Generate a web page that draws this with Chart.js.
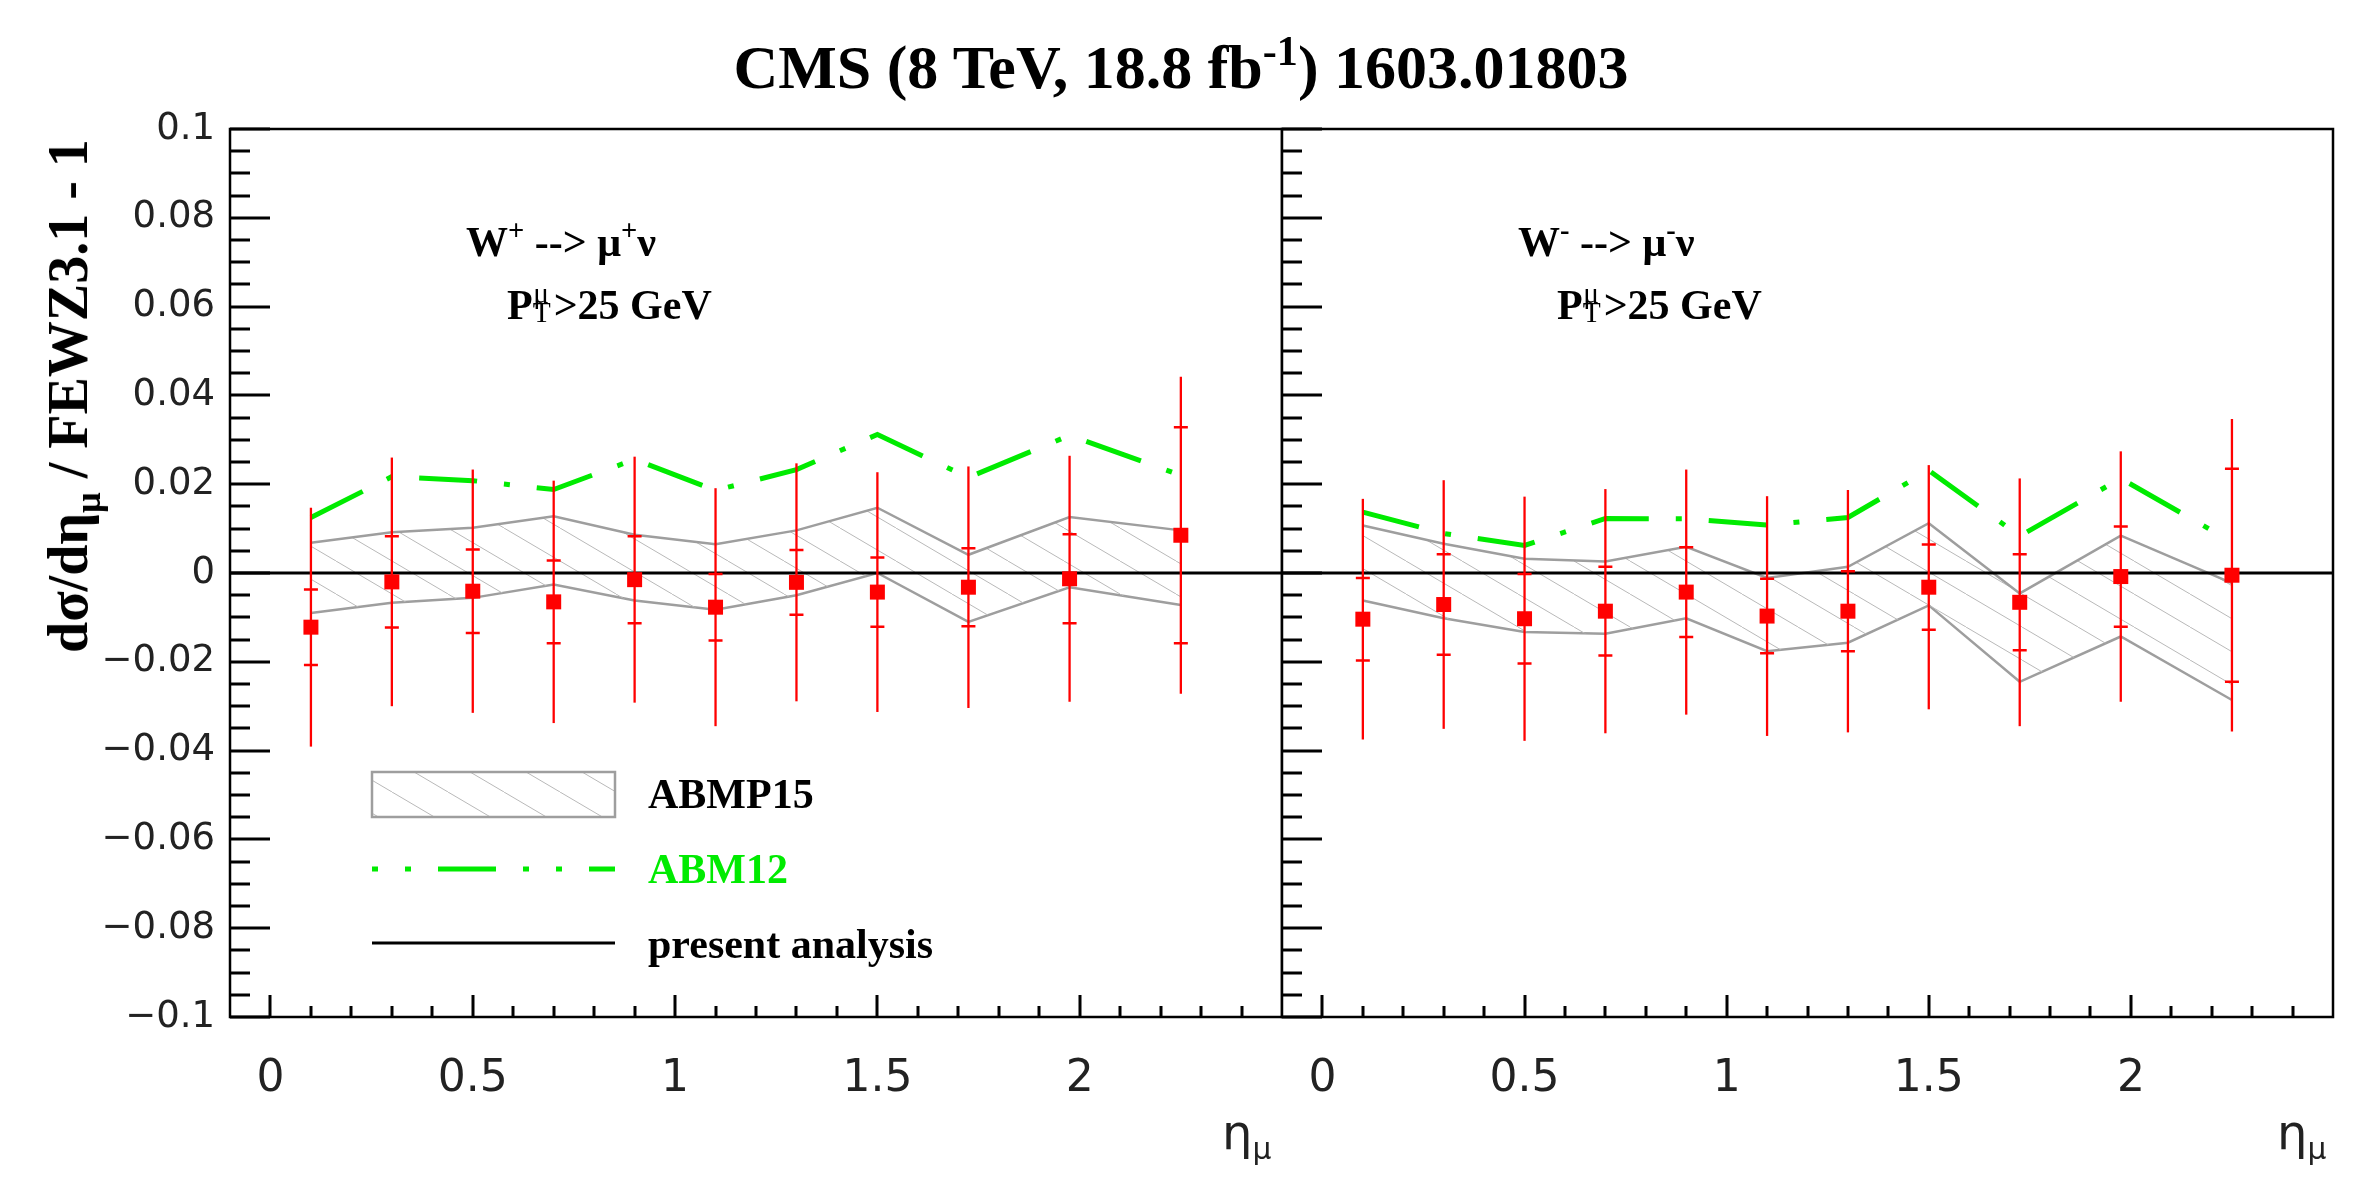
<!DOCTYPE html>
<html>
<head>
<meta charset="utf-8">
<script src="https://cdn.jsdelivr.net/npm/chart.js@4.4.0/dist/chart.umd.min.js"></script>
<style>
body { margin: 0; width: 2363px; height: 1182px; background: #fff; position: relative; overflow: hidden; }
canvas { position: absolute; top: 0; }
#cLeft { left: 0; }
#cRight { left: 1182px; }
.txt { position: absolute; font-family: "Liberation Serif", serif; font-weight: bold; color: #000; white-space: nowrap; line-height: 1; }
.sp { position: relative; font-size: 0.68em; top: -0.55em; }
.ss { position: relative; display: inline-block; width: 0.5em; height: 1em; }
.ss .u { position: absolute; left: 0.02em; top: 0.06em; font-size: 0.7em; font-weight: normal; }
.ss .d { position: absolute; left: 0; top: 0.72em; font-size: 0.7em; font-weight: normal; }
.eta { position: absolute; font-family: "DejaVu Sans", sans-serif; font-size: 48px; line-height: 1; color: #222; }
.eta sub { font-size: 0.62em; vertical-align: -0.35em; }
</style>
</head>
<body>
<canvas id="cLeft" width="1282" height="1182"></canvas>
<canvas id="cRight" width="1181" height="1182"></canvas>

<div class="txt" style="left:1181px; top:36px; font-size:62px; transform:translateX(-50%);">CMS (8 TeV, 18.8 fb<span class="sp">-1</span>) 1603.01803</div>
<div class="txt" style="left:68px; top:396px; font-size:56px; transform:translate(-50%,-50%) rotate(-90deg);">dσ/dη<span style="font-size:0.65em; position:relative; top:0.35em;">μ</span> / FEWZ3.1 - 1</div>

<div class="txt" style="left:466px; top:221px; font-size:42px;">W<span class="sp">+</span> --&gt; μ<span class="sp">+</span>ν</div>
<div class="txt" style="left:507px; top:277px; font-size:42px;">P<span class="ss"><span class="u">μ</span><span class="d">T</span></span>&gt;25 GeV</div>
<div class="txt" style="left:1518px; top:221px; font-size:42px;">W<span class="sp">-</span> --&gt; μ<span class="sp">-</span>ν</div>
<div class="txt" style="left:1557px; top:277px; font-size:42px;">P<span class="ss"><span class="u">μ</span><span class="d">T</span></span>&gt;25 GeV</div>

<div class="eta" style="left:1222px; top:1108px;">η<sub>μ</sub></div>
<div class="eta" style="left:2277px; top:1108px;">η<sub>μ</sub></div>

<script>
// bin centres in eta_mu
var eta = [0.1, 0.3, 0.5, 0.7, 0.9, 1.1, 1.3, 1.5, 1.725, 1.975, 2.25];

// W+ -> mu+ nu
var wp_data  = [-0.0122, -0.0020, -0.0041, -0.0065, -0.0015, -0.0077, -0.0021, -0.0043, -0.0032, -0.0013, 0.0085];
var wp_stat  = [0.0085, 0.0103, 0.0094, 0.0093, 0.0098, 0.0075, 0.0073, 0.0078, 0.0088, 0.0100, 0.0243];
var wp_total = [0.0269, 0.0280, 0.0274, 0.0273, 0.0277, 0.0268, 0.0268, 0.0270, 0.0272, 0.0277, 0.0357];
var wp_abmp15_up = [0.0068, 0.0092, 0.0102, 0.0128, 0.0086, 0.0065, 0.0096, 0.0147, 0.0041, 0.0126, 0.0096];
var wp_abmp15_lo = [-0.0090, -0.0067, -0.0056, -0.0026, -0.0062, -0.0083, -0.0050, 0.0000, -0.0110, -0.0032, -0.0072];
var wp_abm12 = [0.0125, 0.0217, 0.0208, 0.0188, 0.0256, 0.0186, 0.0233, 0.0312, 0.0215, 0.0310, 0.0220];

// W- -> mu- nu
var wm_data  = [-0.0104, -0.0071, -0.0103, -0.0086, -0.0043, -0.0097, -0.0086, -0.0032, -0.0066, -0.0008, -0.0005];
var wm_stat  = [0.0093, 0.0113, 0.0101, 0.0100, 0.0101, 0.0084, 0.0090, 0.0096, 0.0108, 0.0113, 0.0240];
var wm_total = [0.0271, 0.0280, 0.0275, 0.0275, 0.0276, 0.0270, 0.0273, 0.0275, 0.0279, 0.0282, 0.0352];
var wm_abmp15_up = [0.0107, 0.0066, 0.0032, 0.0026, 0.0059, -0.0011, 0.0014, 0.0112, -0.0046, 0.0084, -0.0023];
var wm_abmp15_lo = [-0.0062, -0.0102, -0.0133, -0.0137, -0.0102, -0.0176, -0.0157, -0.0073, -0.0245, -0.0143, -0.0286];
var wm_abm12 = [0.0137, 0.0089, 0.0062, 0.0123, 0.0122, 0.0108, 0.0125, 0.0231, 0.0083, 0.0213, 0.0070];

var x_ticks = [0, 0.5, 1, 1.5, 2];
var x_tick_labels = ['0', '0.5', '1', '1.5', '2'];
var y_ticks = [-0.1, -0.08, -0.06, -0.04, -0.02, 0, 0.02, 0.04, 0.06, 0.08, 0.1];
var y_tick_labels = ['\u22120.1', '\u22120.08', '\u22120.06', '\u22120.04', '\u22120.02', '0', '0.02', '0.04', '0.06', '0.08', '0.1'];

var red = '#ff0000';
var green = 'rgb(0,235,0)';
var band_grey = 'rgb(158,158,158)';

// hatch pattern for the ABMP15 band
function makeHatch() {
    var c = document.createElement('canvas');
    c.width = 56; c.height = 33;
    var g = c.getContext('2d');
    g.strokeStyle = 'rgb(185,185,185)';
    g.lineWidth = 1;
    g.beginPath();
    g.moveTo(-56, -33); g.lineTo(112, 66);
    g.stroke();
    return g.createPattern(c, 'repeat');
}
var hatch = makeHatch();

function pts(ys) {
    return eta.map(function (e, i) { return {x: e, y: ys[i]}; });
}

// frame plus inward ticks, like the ROOT pads
const frameTicks = {
    id: 'frameTicks',
    afterDraw(chart) {
        const ctx = chart.ctx, a = chart.chartArea;
        const x = chart.scales.x, y = chart.scales.y;
        ctx.save();
        ctx.strokeStyle = '#000';
        ctx.lineWidth = 3;
        ctx.beginPath();
        for (let i = 0; i <= 40; i++) {
            const py = Math.round(y.getPixelForValue(-0.1 + i * 0.005));
            const len = (i % 4 === 0) ? 40 : 20;
            ctx.moveTo(a.left, py); ctx.lineTo(a.left + len, py);
        }
        for (let i = 0; i <= 24; i++) {
            const px = Math.round(x.getPixelForValue(i * 0.1));
            const len = (i % 5 === 0) ? 22 : 11;
            ctx.moveTo(px, a.bottom); ctx.lineTo(px, a.bottom - len);
        }
        ctx.stroke();
        ctx.lineWidth = 2.5;
        ctx.strokeRect(a.left, a.top, a.right - a.left, a.bottom - a.top);
        ctx.restore();
    }
};

// stat (inner, with caps) and total (outer) error bars
const errorBars = {
    id: 'errorBars',
    afterDatasetsDraw(chart) {
        const ds = chart.data.datasets[0];
        const ctx = chart.ctx, x = chart.scales.x, y = chart.scales.y;
        ctx.save();
        ctx.strokeStyle = red;
        ds.data.forEach(function (p, i) {
            const px = x.getPixelForValue(p.x);
            ctx.lineWidth = 2.3;
            ctx.beginPath();
            ctx.moveTo(px, y.getPixelForValue(p.y + ds.totErr[i]));
            ctx.lineTo(px, y.getPixelForValue(p.y - ds.totErr[i]));
            ctx.stroke();
            ctx.lineWidth = 2.5;
            ctx.beginPath();
            [p.y + ds.statErr[i], p.y - ds.statErr[i]].forEach(function (v) {
                const py = y.getPixelForValue(v);
                ctx.moveTo(px - 7, py); ctx.lineTo(px + 7, py);
            });
            ctx.stroke();
        });
        ctx.restore();
    }
};

// legend in the lower left of the W+ pad
const padLegend = {
    id: 'padLegend',
    afterDraw(chart) {
        if (!chart.options.plugins.padLegend.show) return;
        const ctx = chart.ctx;
        ctx.save();
        ctx.fillStyle = hatch;
        ctx.fillRect(372, 772, 243, 45);
        ctx.strokeStyle = band_grey;
        ctx.lineWidth = 2.5;
        ctx.strokeRect(372, 772, 243, 45);

        ctx.strokeStyle = green;
        ctx.lineWidth = 5;
        ctx.setLineDash([6, 27, 6, 27, 58, 27]);
        ctx.beginPath(); ctx.moveTo(372, 869); ctx.lineTo(615, 869); ctx.stroke();
        ctx.setLineDash([]);

        ctx.strokeStyle = '#000';
        ctx.lineWidth = 3;
        ctx.beginPath(); ctx.moveTo(372, 943); ctx.lineTo(615, 943); ctx.stroke();

        ctx.font = 'bold 42px "Liberation Serif"';
        ctx.textBaseline = 'alphabetic';
        ctx.fillStyle = '#000';
        ctx.fillText('ABMP15', 648, 808);
        ctx.fillStyle = green;
        ctx.fillText('ABM12', 648, 883);
        ctx.fillStyle = '#000';
        ctx.fillText('present analysis', 648, 958);
        ctx.restore();
    }
};

function makePanel(id, isLeft, d) {
    return new Chart(document.getElementById(id), {
        type: 'line',
        data: {
            datasets: [{
                label: 'data',
                data: pts(d.data),
                statErr: d.stat,
                totErr: d.total,
                showLine: false,
                pointStyle: 'rect',
                pointRadius: 10.6,
                pointBackgroundColor: red,
                pointBorderWidth: 0,
            }, {
                label: 'present analysis',
                data: [{x: -0.1, y: 0}, {x: 2.5, y: 0}],
                borderColor: '#000',
                borderWidth: 3,
                pointRadius: 0,
            }, {
                label: 'ABM12',
                data: pts(d.abm12),
                borderColor: green,
                borderWidth: 5,
                borderDash: [58, 27, 6, 27],
                borderCapStyle: 'butt',
                pointRadius: 0,
            }, {
                label: 'ABMP15',
                data: pts(d.up),
                borderColor: band_grey,
                borderWidth: 2.5,
                backgroundColor: hatch,
                fill: '+1',
                pointRadius: 0,
            }, {
                label: 'ABMP15 low',
                data: pts(d.lo),
                borderColor: band_grey,
                borderWidth: 2.5,
                pointRadius: 0,
            }]
        },
        options: {
            responsive: false,
            animation: false,
            devicePixelRatio: 1,
            layout: {autoPadding: false, padding: {top: 129, left: 0, right: isLeft ? 0 : 30, bottom: 0}},
            elements: {line: {tension: 0}},
            scales: {
                x: {
                    type: 'linear',
                    min: -0.1,
                    max: 2.5,
                    grid: {display: false, drawTicks: false},
                    border: {display: false},
                    afterBuildTicks: function (s) { s.ticks = x_ticks.map(function (v) { return {value: v}; }); },
                    afterFit: function (s) { s.height = 165; },
                    ticks: {
                        padding: 36,
                        color: '#222',
                        maxRotation: 0,
                        font: {family: 'DejaVu Sans', size: 44},
                        callback: function (v, i) { return x_tick_labels[i]; }
                    }
                },
                y: {
                    min: -0.1,
                    max: 0.1,
                    grid: {display: false, drawTicks: false},
                    border: {display: false},
                    afterBuildTicks: function (s) { s.ticks = y_ticks.map(function (v) { return {value: v}; }); },
                    // right pad: an empty 100px axis strip that overlaps the left canvas
                    afterFit: function (s) { s.width = isLeft ? 230 : 100; },
                    ticks: {
                        display: isLeft,
                        padding: 15,
                        color: '#222',
                        font: {family: 'DejaVu Sans', size: 37},
                        callback: function (v, i) { return y_tick_labels[i]; }
                    }
                }
            },
            plugins: {
                legend: {display: false},
                tooltip: {enabled: false},
                padLegend: {show: isLeft}
            }
        },
        plugins: [frameTicks, errorBars, padLegend]
    });
}

makePanel('cLeft', true, {data: wp_data, stat: wp_stat, total: wp_total, up: wp_abmp15_up, lo: wp_abmp15_lo, abm12: wp_abm12});
makePanel('cRight', false, {data: wm_data, stat: wm_stat, total: wm_total, up: wm_abmp15_up, lo: wm_abmp15_lo, abm12: wm_abm12});
</script>
</body>
</html>
